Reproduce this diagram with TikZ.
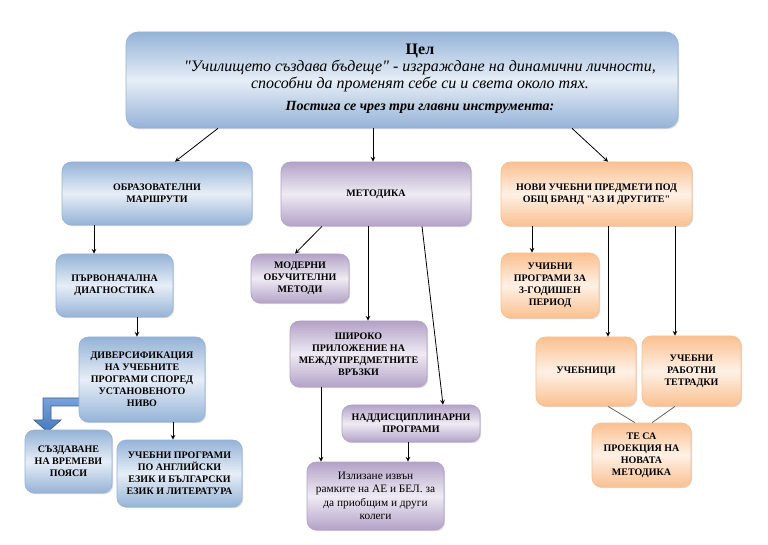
\documentclass[tikz,border=0pt]{standalone}
\usepackage{fontspec}
\setmainfont{Liberation Serif}[Ligatures=TeXOff]
\usetikzlibrary{shadows}
\definecolor{bluedark}{RGB}{149,179,215}
\definecolor{bluelight}{RGB}{231,238,247}
\definecolor{purpdark}{RGB}{179,162,199}
\definecolor{purplight}{RGB}{239,235,243}
\definecolor{orandark}{RGB}{250,192,144}
\definecolor{oranlight}{RGB}{254,241,230}
\definecolor{arrowtop}{RGB}{120,162,220}
\definecolor{arrowbot}{RGB}{72,120,188}
\definecolor{arrowline}{RGB}{60,96,142}
\begin{document}
\begin{tikzpicture}[x=.75pt,y=-.75pt,>=stealth,line width=.6pt,
bx/.style={rectangle,rounded corners=7pt,align=center,inner sep=2pt,line width=.5pt,font=\fontsize{7.5}{9}\selectfont\bfseries,drop shadow={shadow xshift=.9pt,shadow yshift=-.9pt,opacity=.3},shading angle=-45},
bluebox/.style={bx,draw=bluedark,top color=bluedark,bottom color=bluedark,middle color=bluelight},
purpbox/.style={bx,draw=purpdark,top color=purpdark,bottom color=purpdark,middle color=purplight},
oranbox/.style={bx,draw=orandark,top color=orandark,bottom color=orandark,middle color=oranlight},
lnk/.style={gray!80!black}]
\useasboundingbox(0,0)rectangle(768,545);
\node[bluebox,rounded corners=9pt,minimum width=414pt,minimum height=72pt](cel)at(402,80){};
\node[align=center,font=\fontsize{12}{12.8}\selectfont\itshape](celtext)at(420,79){{\upshape\bfseries Цел}\\"Училището създава бъдеще" - изграждане на динамични личности,\\способни да променят себе си и света около тях.\\[4pt]{\fontsize{10.5}{12}\selectfont\bfseries Постига се чрез три главни инструмента:}};
\node[bluebox,minimum width=142.5pt,minimum height=47.25pt](obr)at(157,193.5){ОБРАЗОВАТЕЛНИ\\МАРШРУТИ};
\node[purpbox,minimum width=142.5pt,minimum height=48pt](met)at(376,194){МЕТОДИКА};
\node[oranbox,minimum width=143.25pt,minimum height=48pt](novi)at(596.5,194){НОВИ УЧЕБНИ ПРЕДМЕТИ ПОД\\ОБЩ БРАНД "АЗ И ДРУГИТЕ"};
\node[bluebox,minimum width=87.75pt,minimum height=47.25pt](parv)at(114.5,285.5){ПЪРВОНАЧАЛНА\\ДИАГНОСТИКА};
\draw[arrowline,line width=.5pt,top color=arrowtop,bottom color=arrowbot](81,398)--(43,398)--(43,420)--(34,420)--(47.5,432)--(61,420)--(51,420)--(51,406)--(81,406)--cycle;
\node[bluebox,minimum width=94.5pt,minimum height=63.75pt](div)at(142,379.5){ДИВЕРСИФИКАЦИЯ\\НА УЧЕБНИТЕ\\ПРОГРАМИ СПОРЕД\\УСТАНОВЕНОТО\\НИВО};
\node[bluebox,minimum width=65.25pt,minimum height=47.25pt](sazd)at(68.5,461.5){СЪЗДАВАНЕ\\НА ВРЕМЕВИ\\ПОЯСИ};
\node[bluebox,minimum width=93.75pt,minimum height=50.25pt](ucheng)at(179.5,473.5){УЧЕБНИ ПРОГРАМИ\\ПО АНГЛИЙСКИ\\ЕЗИК И БЪЛГАРСКИ\\ЕЗИК И ЛИТЕРАТУРА};
\node[purpbox,minimum width=73.5pt,minimum height=36.75pt](mod)at(300,278.5){МОДЕРНИ\\ОБУЧИТЕЛНИ\\МЕТОДИ};
\node[purpbox,minimum width=102.75pt,minimum height=49.5pt](shir)at(358.5,354){ШИРОКО\\ПРИЛОЖЕНИЕ НА\\МЕЖДУПРЕДМЕТНИТЕ\\ВРЪЗКИ};
\node[purpbox,minimum width=103.5pt,minimum height=27.75pt](nadd)at(411,423.5){НАДДИСЦИПЛИНАРНИ\\ПРОГРАМИ};
\node[purpbox,font=\fontsize{8.5}{10}\selectfont,minimum width=102.75pt,minimum height=51pt](izl)at(375.5,496){Излизане извън\\рамките на АЕ и БЕЛ. за\\да приобщим и други\\колеги};
\node[oranbox,minimum width=73.5pt,minimum height=48.75pt](uchibni)at(550,285.5){УЧИБНИ\\ПРОГРАМИ ЗА\\3-ГОДИШЕН\\ПЕРИОД};
\node[oranbox,minimum width=75pt,minimum height=51.75pt](uchebnici)at(586,371.5){УЧЕБНИЦИ};
\node[oranbox,minimum width=74.25pt,minimum height=52.5pt](tetr)at(691.5,371){УЧЕБНИ\\РАБОТНИ\\ТЕТРАДКИ};
\node[oranbox,minimum width=74.25pt,minimum height=48pt](tesa)at(641.5,455){ТЕ СА\\ПРОЕКЦИЯ НА\\НОВАТА\\МЕТОДИКА};
\draw[->]([shift={(-184,0)}]cel.south)--([shift={(18,0)}]obr.north);
\draw[->]([shift={(-29,0)}]cel.south)--([shift={(-3,0)}]met.north);
\draw[->]([shift={(170,0)}]cel.south)--([shift={(11.5,0)}]novi.north);
\draw[->]([shift={(-63,0)}]obr.south)--([shift={(-20.5,0)}]parv.north);
\draw[->]([shift={(22.5,0)}]parv.south)--([shift={(-5,0)}]div.north);
\draw[->]([shift={(31,0)}]div.south)--([shift={(-6.5,0)}]ucheng.north);
\draw[->]([shift={(-54,0)}]met.south)--([shift={(-5,0)}]mod.north);
\draw[->]([shift={(-8,0)}]met.south)--([shift={(9.5,0)}]shir.north);
\draw[->]([shift={(46,0)}]met.south)--([shift={(32,0)}]nadd.north);
\draw[->]([shift={(-37.5,0)}]shir.south)--([shift={(-54.5,0)}]izl.north);
\draw[->]([shift={(-3,0)}]nadd.south)--([shift={(32.5,0)}]izl.north);
\draw[->]([shift={(-64.5,0)}]novi.south)--([shift={(-18,0)}]uchibni.north);
\draw[->]([shift={(11.5,0)}]novi.south)--([shift={(22,0)}]uchebnici.north);
\draw[->]([shift={(78.5,0)}]novi.south)--([shift={(-16.5,0)}]tetr.north);
\draw[lnk]([shift={(22,0)}]uchebnici.south)--([shift={(-6.5,0)}]tesa.north);
\draw[lnk]([shift={(-16.5,0)}]tetr.south)--([shift={(10.5,0)}]tesa.north);
\end{tikzpicture}
\end{document}
